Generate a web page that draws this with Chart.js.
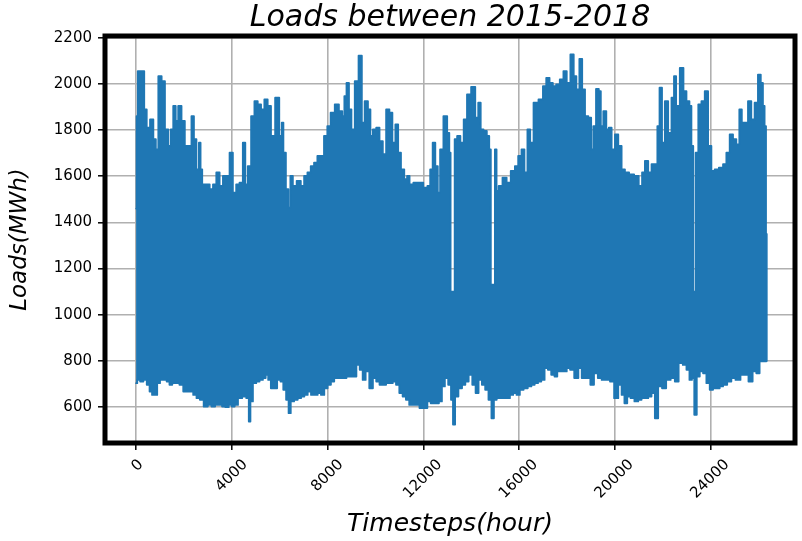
<!DOCTYPE html>
<html>
<head>
<meta charset="utf-8">
<script src="https://cdn.jsdelivr.net/npm/chart.js@4.4.1/dist/chart.umd.min.js"></script>
<style>
    html, body { margin: 0; padding: 0; background: #fff; }
    #wrap { width: 802px; height: 541px; }
</style>
</head>
<body>
<div id="wrap"><canvas id="loadsChart" width="802" height="541"></canvas></div>
<script>
// Hourly load series is too dense to type point by point, so it is kept as
// its upper and lower envelope (hour, MWh).
const upperHours = [
    0, 40, 97, 304, 374, 512, 650, 789, 858, 996, 1135, 1273, 1412, 1481, 1619, 1688, 1827, 1965,
    2104, 2242, 2380, 2450, 2588, 2657, 2726, 2796, 3003, 3142, 3280, 3418, 3557, 3695, 3834, 3972,
    4110, 4249, 4387, 4526, 4595, 4733, 4872, 5010, 5148, 5287, 5425, 5564, 5702, 5910, 6048, 6117,
    6186, 6325, 6394, 6491, 6602, 6809, 6948, 7086, 7224, 7363, 7501, 7640, 7778, 7916, 8055, 8193,
    8401, 8539, 8677, 8718, 8856, 8925, 9063, 9201, 9380, 9476, 9614, 9752, 9821, 9959, 10097, 10235,
    10373, 10511, 10649, 10759, 10897, 10993, 11131, 11269, 11366, 11476, 11683, 11890, 12097, 12234,
    12331, 12441, 12552, 12648, 12745, 12924, 13062, 13100, 13170, 13270, 13340, 13476, 13613, 13751,
    13889, 14096, 14234, 14344, 14441, 14579, 14717, 14780, 14850, 14950, 15020, 15089, 15199, 15406, 15544,
    15751, 15889, 16027, 16165, 16275, 16413, 16509, 16689, 16923, 17061, 17199, 17337, 17475, 17613,
    17778, 17917, 18055, 18222, 18333, 18444, 18583, 18680, 18819, 18958, 19055, 19139, 19278, 19375,
    19444, 19583, 19694, 19792, 19931, 20069, 20208, 20347, 20486, 20695, 20903, 21083, 21181, 21320,
    21458, 21597, 21736, 21806, 21917, 22014, 22153, 22292, 22431, 22500, 22611, 22806, 22917, 23056,
    23167, 23220, 23320, 23420, 23542, 23681, 23820, 23959, 24097, 24236, 24445, 24584, 24723, 24862,
    25000, 25139, 25250, 25348, 25487, 25626, 25764, 25903, 26042, 26139, 26222, 26278, 26340
];
const upperLoads = [
    1460, 1860, 2055, 2055, 1889, 1810, 1846, 1760, 1716, 2033, 2012, 1803, 1731, 1803, 1904, 1839, 1904, 1839,
    1731, 1731, 1860, 1760, 1630, 1745, 1630, 1565, 1565, 1544, 1565, 1616, 1558, 1601, 1601, 1702,
    1529, 1565, 1572, 1745, 1565, 1644, 1860, 1925, 1911, 1889, 1932, 1904, 1774, 1940, 1774, 1832,
    1702, 1544, 1464, 1601, 1558, 1580, 1558, 1601, 1616, 1644, 1659, 1688, 1688, 1774, 1817, 1875,
    1911, 1882, 1860, 1947, 2004, 1889, 1803, 2012, 2122, 1832, 1925, 1889, 1774, 1803, 1810, 1752,
    1695, 1889, 1875, 1745, 1824, 1702, 1630, 1587, 1601, 1565, 1572, 1572, 1551, 1558,
    1630, 1745, 1644, 1529, 1716, 1860, 1788, 1702, 1100, 1100, 1760, 1774, 1745, 1846,
    1954, 1987, 1853, 1918, 1803, 1796, 1774, 1716, 1130, 1130, 1716, 1536, 1558, 1594, 1572,
    1623, 1644, 1688, 1716, 1616, 1803, 1745, 1918, 1932, 1990, 2026, 2004, 1990, 1997,
    2019, 2055, 2004, 2127, 2033, 1976, 2108, 1976, 1860, 1853, 1716, 1817, 1978, 1968,
    1817, 1882, 1803, 1810, 1716, 1781, 1731, 1630, 1616, 1608, 1601, 1558, 1616, 1666,
    1616, 1652, 1652, 1817, 1983, 1745, 1925, 1788, 1940, 2033, 1904, 2069, 1968, 1925,
    1904, 1731, 1100, 1702, 1911, 1925, 1968, 1731, 1623, 1630, 1637, 1652, 1702, 1781,
    1760, 1738, 1889, 1832, 1832, 1925, 1846, 1918, 2040, 2004, 1904, 1817, 1350
];
const lowerHours = [
    0, 97, 236, 374, 513, 610, 721, 832, 929, 1067, 1206, 1344, 1441, 1580, 1719, 1899, 2037, 2176,
    2315, 2453, 2592, 2731, 2911, 3077, 3216, 3382, 3521, 3659, 3798, 3936, 4047, 4185, 4324, 4532,
    4671, 4740, 4809, 4948, 5087, 5225, 5364, 5461, 5572, 5683, 5821, 5960, 6098, 6195, 6334, 6403,
    6514, 6681, 6819, 6958, 7096, 7235, 7374, 7512, 7651, 7790, 7928, 8067, 8205, 8344, 8482, 8621,
    8718, 8856, 8994, 9132, 9270, 9407, 9518, 9656, 9821, 9959, 10097, 10235, 10373, 10511, 10649,
    10786, 10924, 11062, 11200, 11338, 11476, 11614, 11752, 11917, 12097, 12234, 12372, 12579, 12717,
    12827, 12965, 13103, 13200, 13269, 13379, 13544, 13682, 13820, 13958, 14124, 14234, 14372, 14510,
    14648, 14786, 14896, 14992, 15130, 15337, 15544, 15682, 15820, 15958, 16096, 16275, 16441, 16578,
    16716, 16854, 16992, 17130, 17268, 17406, 17544, 17639, 17778, 17917, 18055, 18194, 18403, 18542,
    18680, 18889, 19055, 19194, 19375, 19514, 19722, 19861, 20069, 20208, 20347, 20444, 20583, 20722,
    20903, 21042, 21181, 21320, 21458, 21597, 21736, 21875, 22056, 22222, 22431, 22570, 22750, 22917,
    23056, 23167, 23264, 23361, 23473, 23611, 23750, 23889, 24028, 24167, 24306, 24445, 24584, 24792,
    24931, 25139, 25347, 25486, 25667, 25834, 25973, 26111, 26278, 26340
];
const lowerLoads = [
    704, 718, 711, 718, 697, 668, 653, 653, 704, 718, 718, 711, 697, 704, 704, 697, 668, 668,
    668, 653, 639, 632, 603, 610, 603, 610, 610, 603, 600, 610, 603, 610, 639, 646,
    639, 538, 625, 704, 711, 718, 726, 740, 718, 682, 682, 718, 711, 675, 632, 574,
    625, 632, 639, 646, 653, 668, 653, 653, 661, 653, 682, 697, 711, 726, 726, 726,
    726, 733, 733, 733, 783, 762, 718, 755, 682, 726, 711, 697, 697, 704, 704,
    711, 697, 661, 646, 632, 610, 610, 610, 596, 596, 625, 617, 617, 625,
    690, 726, 697, 632, 525, 646, 682, 697, 711, 740, 697, 661, 718, 697,
    675, 632, 552, 632, 639, 639, 639, 653, 661, 653, 675, 682, 690, 697,
    704, 711, 718, 769, 762, 740, 733, 755, 755, 755, 769, 762, 726, 769,
    726, 726, 697, 747, 726, 718, 718, 711, 639, 697, 653, 617, 646, 639,
    625, 632, 639, 639, 646, 661, 552, 690, 682, 718, 726, 711, 791, 783,
    762, 718, 726, 567, 733, 755, 747, 704, 675, 682, 682, 690, 697, 711,
    726, 718, 740, 740, 711, 755, 747, 798, 798, 800
];
const xTicks = [0, 4000, 8000, 12000, 16000, 20000, 24000];
const yTicks = [600, 800, 1000, 1200, 1400, 1600, 1800, 2000, 2200];

// one closed outline: along the upper envelope, then back along the lower one
const upperPoints = upperHours.map((h, i) => ({ x: h, y: upperLoads[i] }));
const lowerPoints = lowerHours.map((h, i) => ({ x: h, y: lowerLoads[i] })).reverse();
const outline = upperPoints.concat(lowerPoints);

const lineBlue = '#1f77b4';
const gridGray = '#b0b0b0';
const tickFont = { family: "'DejaVu Sans', sans-serif", size: 15 };

// matplotlib centres rotated labels on the tick; Chart.js anchors their end there
const centreRotatedLabels = {
    id: 'centreRotatedLabels',
    beforeDraw(chart) {
        const ctx = chart.ctx;

        chart.scales.x.getLabelItems().forEach((item) => {
            if (item.shifted) {
                return;
            }
            ctx.save();
            ctx.font = item.font.string;
            const w = ctx.measureText(String(item.label)).width;
            ctx.restore();
            item.options.translation[0] += w * 0.3 + 2;
            item.options.translation[1] += 2;
            item.shifted = true;
        });
    },
};

const thickFrame = {
    id: 'thickFrame',
    afterDraw(chart) {
        const { ctx, chartArea: a } = chart;
        ctx.save();
        ctx.strokeStyle = '#000';
        ctx.lineWidth = 5;
        ctx.strokeRect(a.left, a.top, a.right - a.left, a.bottom - a.top);
        ctx.restore();
    },
};

new Chart(document.getElementById('loadsChart'), {
    type: 'line',
    data: {
        datasets: [{
            label: 'Loads',
            data: outline,
            borderColor: lineBlue,
            backgroundColor: lineBlue,
            borderWidth: 1.8,
            borderJoinStyle: 'round',
            borderCapStyle: 'round',
            pointRadius: 0,
            stepped: 'middle',
            fill: 'shape',
        }],
    },
    options: {
        responsive: false,
        animation: false,
        devicePixelRatio: 1,
        layout: { padding: { top: 0, right: 7, bottom: 0, left: 0 } },
        plugins: {
            legend: { display: false },
            tooltip: { enabled: false },
            title: {
                display: true,
                fullSize: false,
                text: 'Loads between 2015-2018',
                color: '#000',
                font: { family: "'DejaVu Sans', sans-serif", size: 30, style: 'italic', weight: 'normal' },
                padding: { top: 0, bottom: 0 },
            },
        },
        scales: {
            x: {
                type: 'linear',
                min: -1300,
                max: 27520,
                afterBuildTicks(scale) {
                    scale.ticks = xTicks.map((v) => ({ value: v }));
                },
                afterFit(scale) {
                    scale.height = 98;
                },
                ticks: {
                    autoSkip: false,
                    minRotation: 45,
                    maxRotation: 45,
                    color: '#000',
                    font: tickFont,
                    padding: 4,
                    callback: (v) => String(v),
                },
                grid: {
                    color: gridGray,
                    lineWidth: 1.6,
                    tickColor: '#000',
                    tickWidth: 1.5,
                    tickLength: 7,
                },
                border: { display: false },
                title: {
                    display: true,
                    text: 'Timesteps(hour)',
                    color: '#000',
                    font: { family: "'DejaVu Sans', sans-serif", size: 25, style: 'italic' },
                    padding: { top: 0, bottom: 2 },
                },
            },
            y: {
                min: 445,
                max: 2207,
                afterBuildTicks(scale) {
                    scale.ticks = yTicks.map((v) => ({ value: v }));
                },
                afterFit(scale) {
                    scale.width = 105;
                },
                ticks: {
                    color: '#000',
                    font: tickFont,
                    padding: 6,
                    callback: (v) => String(v),
                },
                grid: {
                    color: gridGray,
                    lineWidth: 1.6,
                    tickColor: '#000',
                    tickWidth: 1.5,
                    tickLength: 7,
                },
                border: { display: false },
                title: {
                    display: true,
                    text: 'Loads(MWh)',
                    color: '#000',
                    font: { family: "'DejaVu Sans', sans-serif", size: 23, style: 'italic' },
                    padding: { top: 6, bottom: 0 },
                },
            },
        },
    },
    plugins: [centreRotatedLabels, thickFrame],
});
</script>
</body>
</html>
